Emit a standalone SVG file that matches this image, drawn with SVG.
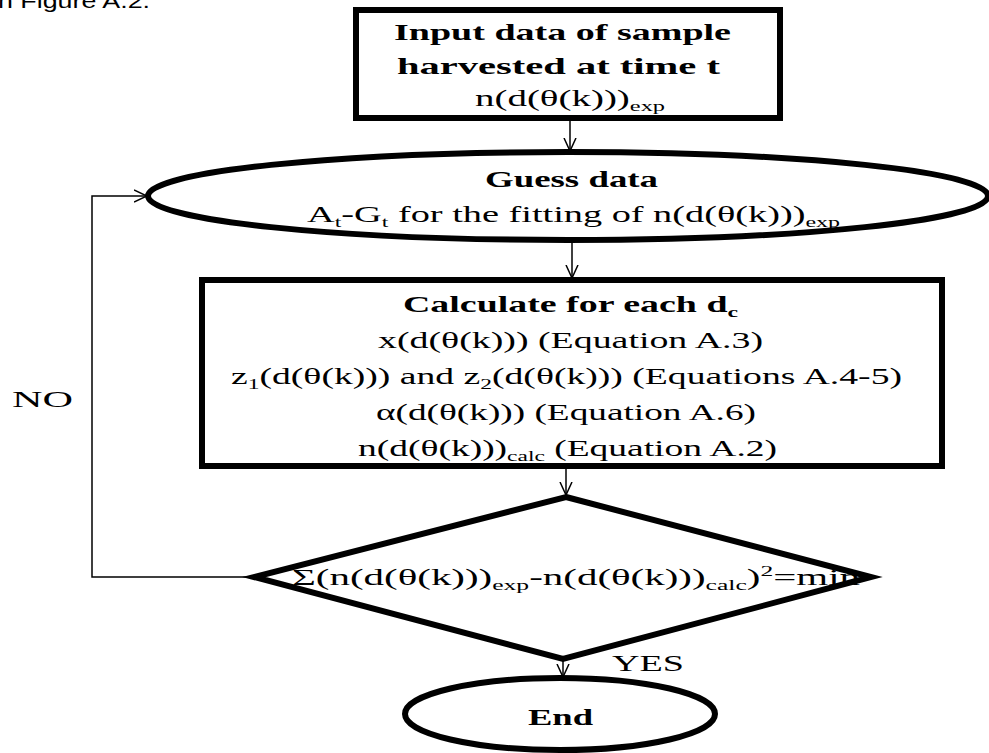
<svg xmlns="http://www.w3.org/2000/svg" width="989" height="753" viewBox="0 0 989 753">
<defs>
<style>
.shape{fill:#fff;stroke:#000;stroke-width:6}
.conn{fill:none;stroke:#000;stroke-width:1.5}
.t{font-family:"Liberation Serif","Times New Roman",serif;font-size:24px;fill:#000}
.b{font-weight:bold}
.sub{font-size:15px}
.cap{font-family:"Liberation Sans",Arial,sans-serif;font-size:20px;fill:#000}
</style>
<marker id="ah" viewBox="0 0 14 14" refX="13" refY="7" markerWidth="14" markerHeight="14" markerUnits="userSpaceOnUse" orient="auto">
<path d="M0,1 L13,7 L0,13" fill="none" stroke="#000" stroke-width="1.5"/>
</marker>
</defs>
<rect width="989" height="753" fill="#fff"/>
<text class="cap" x="-8" y="8" textLength="158" lengthAdjust="spacingAndGlyphs">in Figure A.2.</text>

<g id="connectors">
<line class="conn" x1="570" y1="118" x2="570" y2="151" marker-end="url(#ah)"/>
<line class="conn" x1="572" y1="240" x2="572" y2="278" marker-end="url(#ah)"/>
<line class="conn" x1="566" y1="466" x2="566" y2="495" marker-end="url(#ah)"/>
<line class="conn" x1="563" y1="659" x2="563" y2="677" marker-end="url(#ah)"/>
<polyline class="conn" points="254,577 92,577 92,196 147,196" marker-end="url(#ah)"/>
</g>

<g id="input">
<rect class="shape" x="356" y="10" width="424" height="108"/>
<text class="t b" x="394" y="40" textLength="337" lengthAdjust="spacingAndGlyphs">Input data of sample</text>
<text class="t b" x="397" y="74" textLength="323" lengthAdjust="spacingAndGlyphs">harvested at time t</text>
<text class="t" x="475" y="106" textLength="190" lengthAdjust="spacingAndGlyphs">n(d(θ(k)))<tspan class="sub" dy="5">exp</tspan></text>
</g>

<g id="guess">
<ellipse class="shape" cx="568" cy="196" rx="420" ry="44"/>
<text class="t b" x="485" y="187" textLength="173" lengthAdjust="spacingAndGlyphs">Guess data</text>
<text class="t" x="307" y="222" textLength="533" lengthAdjust="spacingAndGlyphs">A<tspan class="sub" dy="5">t</tspan><tspan dy="-5">-G</tspan><tspan class="sub" dy="5">t</tspan><tspan dy="-5"> for the fitting of n(d(θ(k)))</tspan><tspan class="sub" dy="5">exp</tspan></text>
</g>

<g id="calculate">
<rect class="shape" x="202" y="280" width="740" height="186"/>
<text class="t b" x="403" y="312" textLength="335" lengthAdjust="spacingAndGlyphs">Calculate for each d<tspan class="sub" dy="5">c</tspan></text>
<text class="t" x="378" y="348" textLength="385" lengthAdjust="spacingAndGlyphs">x(d(θ(k))) (Equation A.3)</text>
<text class="t" x="231" y="384" textLength="671" lengthAdjust="spacingAndGlyphs">z<tspan class="sub" dy="5">1</tspan><tspan dy="-5">(d(θ(k))) and z</tspan><tspan class="sub" dy="5">2</tspan><tspan dy="-5">(d(θ(k))) (Equations A.4-5)</tspan></text>
<text class="t" x="376" y="420" textLength="380" lengthAdjust="spacingAndGlyphs">α(d(θ(k))) (Equation A.6)</text>
<text class="t" x="358" y="456" textLength="419" lengthAdjust="spacingAndGlyphs">n(d(θ(k)))<tspan class="sub" dy="5">calc</tspan><tspan dy="-5"> (Equation A.2)</tspan></text>
</g>

<g id="check">
<polygon class="shape" points="566,497 871,577 563,659 254,577"/>
<text class="t" x="292" y="585" textLength="568" lengthAdjust="spacingAndGlyphs">Σ(n(d(θ(k)))<tspan class="sub" dy="5">exp</tspan><tspan dy="-5">-n(d(θ(k)))</tspan><tspan class="sub" dy="5">calc</tspan><tspan dy="-5">)</tspan><tspan class="sub" dy="-9">2</tspan><tspan dy="9">=min</tspan></text>
</g>

<g id="end">
<ellipse class="shape" cx="560" cy="714" rx="155" ry="36"/>
<text class="t b" x="528" y="725" textLength="65" lengthAdjust="spacingAndGlyphs">End</text>
</g>

<g id="labels">
<text class="t" x="12" y="407" textLength="61" lengthAdjust="spacingAndGlyphs">NO</text>
<text class="t" x="612" y="671" textLength="72" lengthAdjust="spacingAndGlyphs">YES</text>
</g>
</svg>
